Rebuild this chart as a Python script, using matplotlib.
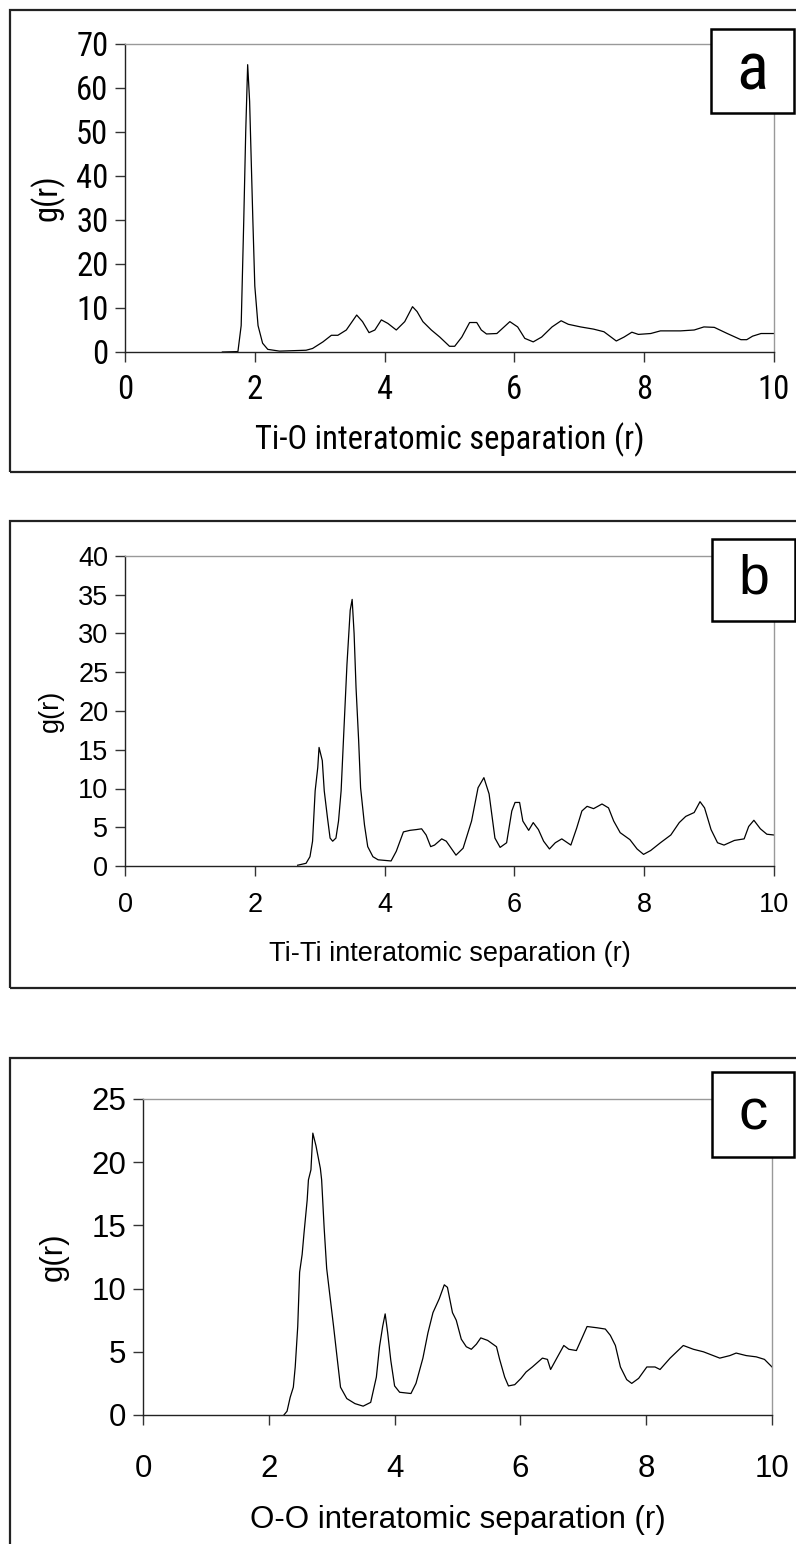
import matplotlib
matplotlib.use("Agg")
import matplotlib.pyplot as plt
from matplotlib.patches import Rectangle
from matplotlib import font_manager

# ---------------- data ----------------
r_tio = [1.5, 1.74, 1.79, 1.83, 1.86, 1.89, 1.92, 1.97, 2.0, 2.05, 2.12, 2.2, 2.38,
         2.79, 2.89, 3.05, 3.18, 3.28, 3.41, 3.57, 3.66, 3.76, 3.85, 3.95, 4.05,
         4.18, 4.31, 4.43, 4.5, 4.59, 4.72, 4.85, 5.0, 5.08, 5.19, 5.31, 5.42, 5.49,
         5.57, 5.73, 5.93, 6.05, 6.16, 6.29, 6.42, 6.58, 6.72, 6.83, 7.02, 7.22, 7.38,
         7.57, 7.69, 7.81, 7.91, 8.1, 8.25, 8.56, 8.77, 8.92, 9.08, 9.28, 9.49, 9.58,
         9.67, 9.8, 10.0]
g_tio = [0.0, 0.1, 6.0, 30.0, 50.0, 65.3, 57.0, 30.0, 15.0, 6.0, 2.0, 0.6, 0.2,
         0.4, 0.8, 2.3, 3.8, 3.8, 5.0, 8.4, 6.9, 4.4, 5.0, 7.3, 6.5,
         5.0, 6.9, 10.3, 9.2, 6.9, 5.0, 3.4, 1.3, 1.3, 3.4, 6.7, 6.7, 5.0,
         4.1, 4.2, 6.9, 5.7, 3.1, 2.3, 3.4, 5.7, 7.1, 6.3, 5.7, 5.2, 4.6,
         2.5, 3.4, 4.5, 4.0, 4.2, 4.8, 4.8, 5.0, 5.7, 5.6, 4.2, 2.8, 2.8,
         3.6, 4.2, 4.2]

r_titi = [2.66, 2.79, 2.85, 2.89, 2.93, 2.97, 2.99, 3.04, 3.07, 3.12, 3.16, 3.2, 3.25,
          3.29, 3.33, 3.37, 3.42, 3.47, 3.5, 3.53, 3.56, 3.6, 3.63, 3.69, 3.74, 3.82,
          3.9, 4.1, 4.18, 4.29, 4.39, 4.49, 4.57, 4.64, 4.71, 4.77, 4.88, 4.95, 5.1,
          5.21, 5.34, 5.44, 5.53, 5.61, 5.7, 5.78, 5.88, 5.96, 6.01, 6.08, 6.13, 6.22,
          6.29, 6.37, 6.45, 6.54, 6.63, 6.73, 6.87, 6.96, 7.04, 7.12, 7.22, 7.35, 7.45,
          7.53, 7.63, 7.78, 7.89, 7.99, 8.1, 8.25, 8.41, 8.54, 8.64, 8.77, 8.86, 8.93,
          9.03, 9.13, 9.23, 9.39, 9.54, 9.61, 9.69, 9.79, 9.89, 10.0]
g_titi = [0.1, 0.35, 1.2, 3.2, 9.7, 12.7, 15.3, 13.6, 9.7, 6.2, 3.6, 3.2, 3.6,
          5.8, 9.7, 17.0, 26.0, 33.0, 34.4, 30.0, 23.0, 16.2, 10.1, 5.3, 2.5, 1.2,
          0.8, 0.65, 1.9, 4.4, 4.6, 4.7, 4.8, 4.0, 2.5, 2.7, 3.5, 3.2, 1.4,
          2.3, 5.8, 10.1, 11.4, 9.3, 3.6, 2.4, 3.0, 7.1, 8.2, 8.2, 5.8, 4.6,
          5.6, 4.7, 3.2, 2.2, 3.0, 3.5, 2.7, 4.9, 7.1, 7.7, 7.4, 8.0, 7.5,
          5.8, 4.3, 3.4, 2.2, 1.5, 2.0, 3.0, 4.0, 5.6, 6.4, 6.9, 8.3, 7.5,
          4.7, 3.0, 2.7, 3.3, 3.5, 5.1, 5.9, 4.8, 4.1, 4.0]

r_oo = [2.24, 2.29, 2.34, 2.39, 2.42, 2.46, 2.49, 2.53, 2.56, 2.61, 2.63, 2.67, 2.7,
        2.75, 2.82, 2.84, 2.88, 2.92, 2.97, 3.03, 3.08, 3.14, 3.24, 3.37, 3.5, 3.62,
        3.71, 3.76, 3.81, 3.85, 3.89, 3.94, 4.0, 4.08, 4.26, 4.34, 4.45, 4.53, 4.61,
        4.71, 4.79, 4.84, 4.92, 4.98, 5.06, 5.14, 5.22, 5.3, 5.37, 5.48, 5.62, 5.67,
        5.75, 5.81, 5.91, 6.01, 6.09, 6.19, 6.35, 6.43, 6.48, 6.59, 6.69, 6.77, 6.89,
        6.98, 7.06, 7.22, 7.35, 7.43, 7.51, 7.59, 7.69, 7.77, 7.88, 8.01, 8.14, 8.22,
        8.38, 8.59, 8.75, 8.91, 9.17, 9.33, 9.43, 9.59, 9.75, 9.88, 10.0]
g_oo = [0.0, 0.3, 1.4, 2.2, 3.8, 7.0, 11.3, 12.7, 14.4, 17.0, 18.6, 19.4, 22.3,
        21.3, 19.5, 18.6, 14.8, 11.6, 9.5, 7.0, 4.8, 2.2, 1.3, 0.9, 0.7, 1.0,
        3.0, 5.4, 7.0, 8.0, 6.5, 4.3, 2.3, 1.8, 1.7, 2.5, 4.5, 6.5, 8.1,
        9.2, 10.3, 10.1, 8.1, 7.5, 6.0, 5.4, 5.2, 5.6, 6.1, 5.9, 5.4, 4.4,
        3.0, 2.3, 2.4, 2.9, 3.4, 3.8, 4.5, 4.4, 3.6, 4.6, 5.5, 5.2, 5.1,
        6.1, 7.0, 6.9, 6.8, 6.3, 5.5, 3.8, 2.8, 2.5, 2.9, 3.8, 3.8, 3.6,
        4.5, 5.5, 5.2, 5.0, 4.5, 4.7, 4.9, 4.7, 4.6, 4.4, 3.8]

x_ticks = [0, 2, 4, 6, 8, 10]
y_ticks_a = [0, 10, 20, 30, 40, 50, 60, 70]
y_ticks_b = [0, 5, 10, 15, 20, 25, 30, 35, 40]
y_ticks_c = [0, 5, 10, 15, 20, 25]

xlabels = ["Ti-O interatomic separation (r)",
           "Ti-Ti interatomic separation (r)",
           "O-O interatomic separation (r)"]
panel_letters = ["a", "b", "c"]

# ---------------- fonts ----------------
avail = {f.name for f in font_manager.fontManager.ttflist}
condensed_kw = None
for cand in ["Liberation Sans Narrow", "Roboto Condensed", "Arial Narrow"]:
    if cand in avail:
        condensed_kw = dict(family=[cand, 'Liberation Sans'])
        break
if condensed_kw is None:
    condensed_kw = dict(family=['Liberation Sans'])
plt.rcParams['font.family'] = ['Liberation Sans', 'DejaVu Sans']

W, H = 796, 1544
fig = plt.figure(figsize=(W / 100, H / 100), dpi=100)


def fx(px):
    return px / W


def fy(py):
    return 1 - py / H


def add_rect(x0, y0, x1, y1, lw=1.5, z=5):
    rect = Rectangle((fx(x0), fy(y1)), fx(x1) - fx(x0), fy(y0) - fy(y1),
                     transform=fig.transFigure, fill=True, facecolor='white',
                     edgecolor='black', linewidth=lw, zorder=z)
    fig.patches.append(rect)


# outer boxes (right side runs off the image)
for (y0, y1) in [(10, 472), (521, 988), (1058, 1560)]:
    r = Rectangle((fx(10), fy(y1)), fx(820) - fx(10), fy(y0) - fy(y1),
                  transform=fig.transFigure, fill=False, edgecolor='#222222',
                  linewidth=1.6, zorder=-1)
    fig.patches.append(r)

panels = [
    dict(r=r_tio, g=g_tio, yt=y_ticks_a, ymax=70, ax=(125, 44, 774, 352),
         fs=23.5, lab_fs=23.5, lbox=(711, 29, 794, 113), lfs=48, narrow=True,
         xpad=9, xlpad=12, ylpad=8),
    dict(r=r_titi, g=g_titi, yt=y_ticks_b, ymax=40, ax=(125, 556, 774, 866),
         fs=19.5, lab_fs=19.5, lbox=(712, 539, 795, 621), lfs=40, narrow=False,
         xpad=12, xlpad=16, ylpad=10),
    dict(r=r_oo, g=g_oo, yt=y_ticks_c, ymax=25, ax=(143, 1099, 772, 1415),
         fs=22.5, lab_fs=22.5, lbox=(712, 1072, 794, 1157), lfs=42, narrow=False,
         xpad=21, xlpad=15, ylpad=16),
]

for i, p in enumerate(panels):
    x0, y0, x1, y1 = p['ax']
    ax = fig.add_axes([fx(x0), fy(y1), fx(x1) - fx(x0), fy(y0) - fy(y1)])
    ax.plot(p['r'], p['g'], color='black', lw=0.9)
    ax.set_xlim(0, 10)
    ax.set_ylim(0, p['ymax'])
    ax.set_xticks(x_ticks)
    ax.set_yticks(p['yt'])
    kw = condensed_kw if p['narrow'] else dict(family=['Liberation Sans'])
    ax.set_xticklabels([str(t) for t in x_ticks], fontsize=p['fs'], **kw)
    ax.set_yticklabels([str(t) for t in p['yt']], fontsize=p['fs'], **kw)
    ax.tick_params(axis='both', direction='out', length=7, width=1, color='#333333')
    ax.tick_params(axis='x', pad=p['xpad'])
    ax.tick_params(axis='y', pad=5)
    ax.set_xlabel(xlabels[i], fontsize=p['lab_fs'], labelpad=p['xlpad'], **kw)
    ax.set_ylabel("g(r)", fontsize=p['lab_fs'], labelpad=p['ylpad'], **kw)
    for s in ['top', 'right']:
        ax.spines[s].set_color('#999999')
        ax.spines[s].set_linewidth(1.0)
    for s in ['left', 'bottom']:
        ax.spines[s].set_color('#222222')
        ax.spines[s].set_linewidth(1.0)
    ax.patch.set_alpha(0)
    # panel letter box
    bx0, by0, bx1, by1 = p['lbox']
    add_rect(bx0, by0, bx1, by1, lw=1.8, z=10)
    fig.text((fx(bx0) + fx(bx1)) / 2, (fy(by0) + fy(by1)) / 2, panel_letters[i],
             ha='center', va='center', fontsize=p['lfs'], zorder=11, **kw)

fig.savefig("out.png", dpi=100)
